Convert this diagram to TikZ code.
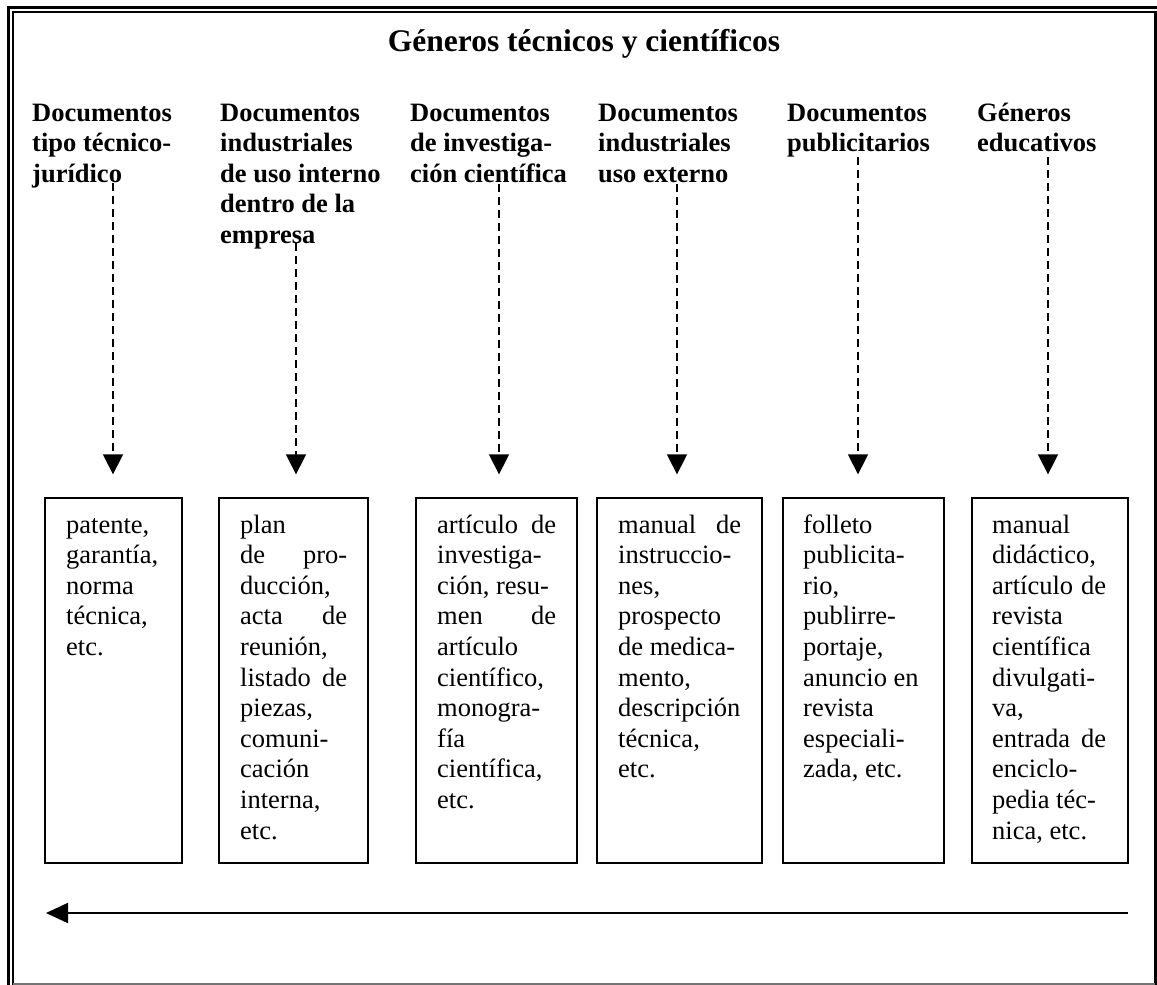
\documentclass[tikz,border=0pt]{standalone}
\usepackage{fontspec}
\setmainfont{Liberation Serif}
\usetikzlibrary{arrows.meta}
\begin{document}
\begin{tikzpicture}[x=1pt,y=-1pt,
  head/.style={anchor=base west,inner sep=0pt,font=\fontsize{26.5}{30.5}\selectfont\bfseries},
  txt/.style={anchor=base west,inner sep=0pt,font=\fontsize{26.5}{30.6}\selectfont},
  cell/.style={draw,line width=1.3pt,inner sep=0pt,minimum height=365pt},
  link/.style={line width=1.5pt,dash pattern=on 8pt off 5pt,
    -{Triangle[width=20pt,length=20pt]},shorten >=23pt}
]
\useasboundingbox (0,0) rectangle (1157,985);

% page frame: double rule on the left and top, heavy rule on the right
\draw[line width=3pt] (8,985) -- (8,7.5) -- (1157,7.5);
\draw[line width=1.8pt] (13,985) -- (13,12) -- (1157,12);
\draw[line width=3pt] (1155,12) -- (1155,985);
\draw[line width=1.5pt,black!55] (13,984) -- (1155,984);

% title
\node[anchor=base,inner sep=0pt,font=\fontsize{31.5}{36}\selectfont\bfseries] (title) at (584,51)
  {Géneros técnicos y científicos};

% column headings
\node[head] (h1) at (32,121) {\parbox[t]{170pt}{\raggedright Documentos\\ tipo técnico-\\ jurídico}};
\node[head] (h2) at (220,121) {\parbox[t]{185pt}{\raggedright Documentos\\ industriales\\ de uso interno\\ dentro de la\\ empresa}};
\node[head] (h3) at (410,121) {\parbox[t]{185pt}{\raggedright Documentos\\ de investiga-\\ ción científica}};
\node[head] (h4) at (598,121) {\parbox[t]{185pt}{\raggedright Documentos\\ industriales\\ uso externo}};
\node[head] (h5) at (787,121) {\parbox[t]{185pt}{\raggedright Documentos\\ publicitarios}};
\node[head] (h6) at (977,121) {\parbox[t]{170pt}{\raggedright Géneros\\ educativos}};

% boxes
\node[cell,minimum width=137pt] (b1) at (113.5,680.5) {};
\node[cell,minimum width=149pt] (b2) at (293.5,680.5) {};
\node[cell,minimum width=161pt] (b3) at (496.5,680.5) {};
\node[cell,minimum width=165pt] (b4) at (679.5,680.5) {};
\node[cell,minimum width=161pt] (b5) at (863.5,680.5) {};
\node[cell,minimum width=156pt] (b6) at (1050,680.5) {};

% box contents
\node[txt] (t1) at (66,533) {\parbox[t]{95pt}{\raggedright
  patente,\\ garantía,\\ norma\\ técnica,\\ etc.}};
\node[txt] (t2) at (240,533) {\parbox[t]{107pt}{\raggedright
  plan\\ de\hfill pro-\\ ducción,\\ acta\hfill de\\ reunión,\\ listado\hfill de\\ piezas,\\ comuni-\\ cación\\ interna,\\ etc.}};
\node[txt] (t3) at (437,533) {\parbox[t]{119pt}{\raggedright
  artículo\hfill de\\ investiga-\\ ción, resu-\\ men\hfill de\\ artículo\\ científico,\\ monogra-\\ fía\\ científica,\\ etc.}};
\node[txt] (t4) at (618,533) {\parbox[t]{123pt}{\raggedright
  manual\hfill de\\ instruccio-\\ nes,\\ prospecto\\ de medica-\\ mento,\\ descripción\\ técnica,\\ etc.}};
\node[txt] (t5) at (803,533) {\parbox[t]{120pt}{\raggedright
  folleto\\ publicita-\\ rio,\\ publirre-\\ portaje,\\ anuncio en\\ revista\\ especiali-\\ zada, etc.}};
\node[txt] (t6) at (992,533) {\parbox[t]{114pt}{\raggedright
  manual\\ didáctico,\\ artículo\hfill de\\ revista\\ científica\\ divulgati-\\ va,\\ entrada\hfill de\\ enciclo-\\ pedia téc-\\ nica, etc.}};

% dashed links from headings down to the boxes
\coordinate (s1) at (113,183);
\coordinate (s2) at (296,243);
\coordinate (s3) at (499,184);
\coordinate (s4) at (677,184);
\coordinate (s5) at (858,157);
\coordinate (s6) at (1048,157);
\draw[link] (s1) -- (s1 |- b1.north);
\draw[link] (s2) -- (s2 |- b2.north);
\draw[link] (s3) -- (s3 |- b3.north);
\draw[link] (s4) -- (s4 |- b4.north);
\draw[link] (s5) -- (s5 |- b5.north);
\draw[link] (s6) -- (s6 |- b6.north);

% long arrow beneath the boxes
\coordinate (aR) at (1128,913);
\coordinate (aL) at (46,913);
\draw[line width=2pt,-{Triangle[width=20pt,length=22pt]}] (aR) -- (aL);
\end{tikzpicture}
\end{document}
